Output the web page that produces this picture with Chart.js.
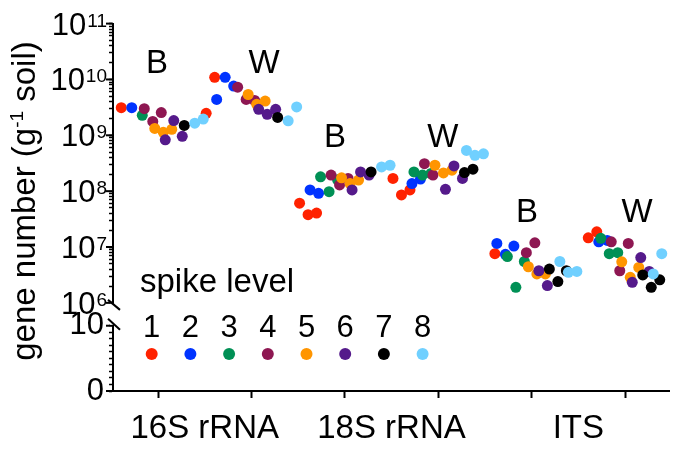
<!DOCTYPE html>
<html>
<head>
<meta charset="utf-8">
<script src="https://cdn.jsdelivr.net/npm/chart.js@4.4.1/dist/chart.umd.min.js"></script>
<style>
  html, body { margin: 0; padding: 0; background: #fff; }
  #wrap { width: 678px; height: 451px; }
</style>
</head>
<body>
<div id="wrap"><canvas id="geneChart"></canvas></div>
<script>
// categories
const genes = ['16S rRNA', '18S rRNA', 'ITS'];
const soils = ['B', 'W'];
const spikeLevels = ['1', '2', '3', '4', '5', '6', '7', '8'];
const levelColors = ['#ff2200', '#0033ff', '#009055', '#8e1752', '#ff9500', '#551a8b', '#000000', '#70d0ff'];

// tick labels
const yTicks = [1e6, 1e7, 1e8, 1e9, 1e10, 1e11];
const lowTicks = [0, 10];

// gene copies per gram soil, 3 replicates per spike level (null = dot hidden behind others)
const s16B = [
  [null, 3.13e9, null], [null, 3.13e9, null], [null, 2.28e9, null], [3.0e9, 1.77e9, 2.55e9],
  [1.33e9, 1.13e9, 1.28e9], [8.3e8, 1.84e9, 9.6e8], [null, 1.5e9, null], [null, 1.65e9, 1.95e9]
];
const s16W = [
  [2.48e9, 1.09e10, null], [4.38e9, 1.09e10, 7.6e9], [null, null, null], [7.28e9, 4.38e9, 4.2e9],
  [5.38e9, 3.58e9, 4.11e9], [2.92e9, 2.38e9, 2.92e9], [null, 2.09e9, null], [null, 1.82e9, 3.22e9]
];
const s18B = [
  [6.08e7, 3.79e7, 4.05e7], [1.05e8, 9.15e7, null], [1.81e8, 9.8e7, 1.6e8], [1.94e8, 1.29e8, 1.69e8],
  [1.73e8, 1.37e8, 1.58e8], [1.05e8, 2.21e8, 1.94e8], [null, 2.21e8, null], [null, 2.72e8, 2.91e8]
];
const s18W = [
  [1.69e8, 8.57e7, 1.05e8], [null, 1.37e8, 1.65e8], [2.21e8, 1.94e8, 2.07e8], [3.1e8, 1.94e8, null],
  [2.91e8, 2.12e8, 2.37e8], [1.08e8, 2.83e8, 1.69e8], [null, 2.15e8, 2.47e8], [5.36e8, 4.38e8, 4.67e8]
];
const itsB = [
  [null, 7.6e6, null], [1.16e7, 7.4e6, 1.04e7], [6.73e6, 1.9e6, 5.5e6], [null, 7.9e6, 1.19e7],
  [4.43e6, 3.29e6, 3.29e6], [3.76e6, 2.04e6, null], [4.03e6, 2.41e6, 3.76e6], [5.5e6, 3.52e6, 3.65e6]
];
const itsW = [
  [null, 1.46e7, 1.87e7], [null, 1.24e7, 1.31e7], [1.43e7, 7.6e6, 7.9e6], [1.24e7, 3.76e6, 1.16e7],
  [5.43e6, 2.87e6, 4.3e6], [2.33e6, 6.47e6, 3.65e6], [3.16e6, 1.9e6, 2.58e6], [3.29e6, 7.6e6, null]
];
const groups = [s16B, s16W, s18B, s18W, itsB, itsW];

// layout of the dots inside a group column (x units, one unit per column)
const levelStep = 0.1124;
const repStep = 0.091;
const FONT = '"Liberation Sans", Arial, Helvetica, sans-serif';

const datasets = spikeLevels.map((lvl, l) => ({
  label: lvl,
  order: spikeLevels.length - l,
  xAxisID: 'x',
  yAxisID: 'y',
  data: groups.flatMap((grp, g) => grp[l].map((v, r) => ({
    x: g + (l - 3.5) * levelStep + (r - 1) * repStep,
    y: v
  }))).filter(p => p.y !== null),
  backgroundColor: levelColors[l],
  pointBackgroundColor: levelColors[l],
  pointBorderWidth: 0,
  pointRadius: 5.5,
  showLine: false,
  clip: false
}));

// x ticks: marks at each column, gene names between the B/W pair
const xTickValues = genes.flatMap((g, i) => [2 * i, 2 * i + 0.5, 2 * i + 1]);

// where the B / W letters sit (x in column units, y in data units)
const soilLabelPos = [
  [-0.01, 2.12e10], [1.135, 2.12e10],
  [1.895, 1.02e9], [3.05, 1.02e9],
  [3.95, 4.52e7], [5.13, 4.52e7]
];

const decor = {
  id: 'decor',
  afterDraw(chart) {
    const { ctx, chartArea, scales } = chart;
    const yl = scales.y, yb = scales.y2, xs = scales.x;
    const left = chartArea.left;
    ctx.save();
    ctx.strokeStyle = '#000';
    ctx.fillStyle = '#000';
    ctx.lineWidth = 2;
    const line = (x1, y1, x2, y2) => { ctx.beginPath(); ctx.moveTo(x1, y1); ctx.lineTo(x2, y2); ctx.stroke(); };

    // long ticks at decades and at 0 / 10
    yTicks.forEach(v => { const p = yl.getPixelForValue(v); line(left - 7, p, left, p); });
    lowTicks.forEach(v => { const p = yb.getPixelForValue(v); line(left - 7, p, left, p); });

    // axis break
    const p6 = yl.getPixelForValue(yTicks[0]);
    const p10 = yb.getPixelForValue(lowTicks[1]);
    ctx.fillStyle = '#fff';
    ctx.fillRect(left - 3, p6 + 1, 6, p10 - p6 - 2);
    ctx.fillStyle = '#000';
    line(left - 5, p6 - 3, left + 7, p6 + 7);
    line(left - 5, p10 - 7, left + 7, p10 + 4);

    // 10^n labels
    ctx.textAlign = 'left';
    ctx.textBaseline = 'alphabetic';
    yTicks.forEach(v => {
      const p = yl.getPixelForValue(v);
      const exp = String(Math.round(Math.log10(v)));
      ctx.font = '19px ' + FONT;
      const we = ctx.measureText(exp).width;
      ctx.font = '31px ' + FONT;
      const wb = ctx.measureText('10').width;
      const xr = left - 6;
      ctx.fillText('10', xr - we - wb - 1, p + 11);
      ctx.font = '19px ' + FONT;
      ctx.fillText(exp, xr - we, p + 3);
    });

    // axis title with superscript
    ctx.save();
    ctx.translate(35, 201);
    ctx.rotate(-Math.PI / 2);
    const t1 = 'gene number (g', t2 = '-1', t3 = ' soil)';
    ctx.font = '33px ' + FONT;
    const w1 = ctx.measureText(t1).width, w3 = ctx.measureText(t3).width;
    ctx.font = '19px ' + FONT;
    const w2 = ctx.measureText(t2).width;
    let sx = -(w1 + w2 + w3) / 2;
    ctx.font = '33px ' + FONT;
    ctx.fillText(t1, sx, 0);
    ctx.font = '19px ' + FONT;
    ctx.fillText(t2, sx + w1, -12);
    ctx.font = '33px ' + FONT;
    ctx.fillText(t3, sx + w1 + w2, 0);
    ctx.restore();

    // B / W letters
    ctx.font = '33px ' + FONT;
    ctx.textAlign = 'center';
    soilLabelPos.forEach((pos, i) => {
      ctx.fillText(soils[i % 2], xs.getPixelForValue(pos[0]), yl.getPixelForValue(pos[1]) + 12);
    });

    // spike level legend
    const bottom = chartArea.bottom;
    ctx.textAlign = 'left';
    ctx.fillText('spike level', left + 27, bottom - 99);
    ctx.font = '31px ' + FONT;
    ctx.textAlign = 'center';
    spikeLevels.forEach((lvl, i) => {
      const lx = left + 38.7 * (i + 1);
      ctx.fillStyle = '#000';
      ctx.fillText(lvl, lx, bottom - 54);
      ctx.fillStyle = levelColors[i];
      ctx.beginPath();
      ctx.arc(lx, bottom - 37, 6, 0, Math.PI * 2);
      ctx.fill();
    });
    ctx.restore();
  }
};

const chartCtx = document.getElementById('geneChart').getContext('2d');
const geneChart = new Chart(chartCtx, {
  type: 'scatter',
  data: { datasets: datasets },
  options: {
    responsive: true,
    maintainAspectRatio: false,
    animation: false,
    layout: { padding: { left: 0, top: 20, right: 9, bottom: 0 } },
    plugins: { legend: { display: false }, tooltip: { enabled: false } },
    scales: {
      x: {
        type: 'linear',
        min: -0.482,
        max: 5.471,
        afterBuildTicks: s => { s.ticks = xTickValues.map(v => ({ value: v })); },
        afterFit: s => { s.height = 60; },
        ticks: {
          autoSkip: false,
          maxRotation: 0,
          padding: 11,
          color: '#000',
          font: { family: FONT, size: 33 },
          callback: v => (v % 2 === 0.5 ? genes[(v - 0.5) / 2] : '')
        },
        grid: {
          drawOnChartArea: false,
          tickLength: 7,
          tickWidth: 2,
          tickColor: c => (c.tick && Number.isInteger(c.tick.value) ? '#000' : 'rgba(0,0,0,0)')
        },
        border: { color: '#000', width: 2 }
      },
      // lower segment first: left-side stacks are laid out bottom-up
      y2: {
        type: 'linear',
        position: 'left',
        stack: 'left',
        stackWeight: 89,
        min: 0,
        max: 13.5,
        afterBuildTicks: s => {
          const t = [];
          for (let k = lowTicks[0]; k <= lowTicks[1]; k++) t.push({ value: k });
          s.ticks = t;
        },
        afterFit: s => { s.width = 113; },
        ticks: {
          autoSkip: false,
          padding: 5,
          color: '#000',
          font: { family: FONT, size: 31 },
          callback: v => (lowTicks.includes(v) ? String(v) : '')
        },
        grid: { drawOnChartArea: false, tickLength: 4, tickWidth: 1.5, tickColor: '#000' },
        border: { color: '#000', width: 2 }
      },
      y: {
        type: 'logarithmic',
        position: 'left',
        stack: 'left',
        stackWeight: 282,
        min: yTicks[0],
        max: yTicks[yTicks.length - 1],
        afterBuildTicks: s => {
          const t = [];
          yTicks.forEach((m, i) => {
            if (i === yTicks.length - 1) { t.push({ value: m }); return; }
            for (let k = 1; k < 10; k++) t.push({ value: m * k });
          });
          s.ticks = t;
        },
        afterFit: s => { s.width = 113; },
        ticks: { display: false },
        grid: { drawOnChartArea: false, tickLength: 4, tickWidth: 1.5, tickColor: '#000' },
        border: { color: '#000', width: 2 }
      }
    }
  },
  plugins: [decor]
});
</script>
</body>
</html>
